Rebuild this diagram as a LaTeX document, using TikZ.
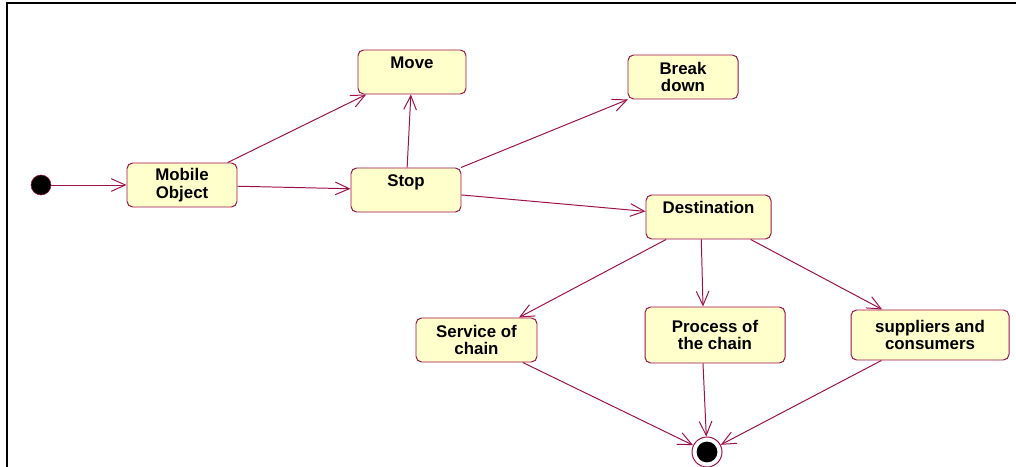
\documentclass[tikz,border=0pt]{standalone}
\usepackage{fontspec}
\setmainfont{Liberation Sans}
\usepackage{xcolor}
\usetikzlibrary{positioning,arrows.meta}
\definecolor{umlred}{RGB}{158,16,72}
\definecolor{umlfill}{RGB}{255,255,204}

\begin{document}
\begin{tikzpicture}[>={Straight Barb[length=10pt,width=9pt]},
  state/.style={draw=umlred, fill=umlfill, line width=0.7pt, rounded corners=4pt,
    minimum width=2.75cm, minimum height=1.1cm, align=center, inner sep=2pt,
    font=\bfseries\fontsize{12}{12.5}\selectfont},
  upper/.style={text depth=13pt},
  trans/.style={->, draw=umlred, line width=0.7pt}]
\useasboundingbox (0,0) rectangle (25.4,-11.675);
% frame
\draw[line width=1.5pt] (0.175,-11.675) -- (0.175,-0.075) -- (25.4,-0.075);

% start and end
\node[circle, draw=umlred, fill=black, minimum size=0.5cm, inner sep=0pt] (start) at (1.025,-4.625) {};
\node[circle, draw=umlred, fill=white, line width=0.7pt, minimum size=0.75cm, inner sep=0pt] (end) at (17.675,-11.3) {};
\fill (end.center) circle (0.26);

% state nodes
\node[state] (mobile) at (4.55,-4.625) {Mobile\\Object};
\node[state, upper, minimum width=2.7cm] (move) at (10.3,-1.8) {Move};
\node[state, upper] (stop) at (10.15,-4.75) {Stop};
\node[state] (brk) at (17.075,-1.925) {Break\\down};
\node[state, upper, minimum width=3.125cm] (dest) at (17.7125,-5.425) {Destination};
\node[state, minimum width=3.025cm] (serv) at (11.9125,-8.5) {Service of\\chain};
\node[state, minimum width=3.5cm, minimum height=1.4cm] (proc) at (17.875,-8.375) {Process of\\the chain};
\node[state, minimum width=3.95cm, minimum height=1.25cm] (supp) at (23.25,-8.375) {suppliers and\\consumers};

% transitions
\draw[trans] (start) -- (mobile);
\draw[trans] (mobile) -- (move);
\draw[trans] (mobile) -- (stop);
\draw[trans] (stop) -- (move);
\draw[trans] (stop) -- (brk);
\draw[trans] (stop) -- (dest);
\draw[trans] (dest) -- (serv);
\draw[trans] ([xshift=-0.18cm]dest.south) -- ([xshift=-0.3cm]proc.north);
\draw[trans] (dest) -- (supp);
\draw[trans] (serv) -- (end);
\draw[trans] ([xshift=-0.3cm]proc.south) -- (end);
\draw[trans] (supp) -- (end);
\end{tikzpicture}
\end{document}
